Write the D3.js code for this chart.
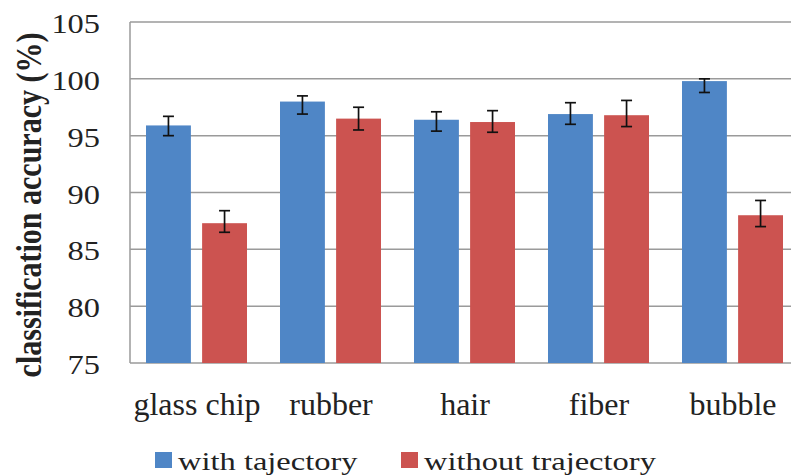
<!DOCTYPE html>
<html>
<head>
<meta charset="utf-8">
<script src="https://cdn.jsdelivr.net/npm/d3@7"></script>
</head>
<body style="margin:0;background:#fff">
<svg id="chart" width="791" height="476"></svg>
<script>
// Particle types and classification accuracy (%)
const categories = ["glass chip", "rubber", "hair", "fiber", "bubble"];
const seriesNames = ["with tajectory", "without trajectory"];
const withTrajectory    = [95.9, 98.0, 96.4, 96.9, 99.8];
const withoutTrajectory = [87.3, 96.5, 96.2, 96.8, 88.0];
// error bar extents (low / high)
const withLow     = [95.0, 96.9, 95.4, 96.0, 98.8];
const withHigh    = [96.7, 98.5, 97.1, 97.9, 100.0];
const withoutLow  = [86.5, 95.5, 95.3, 95.8, 87.0];
const withoutHigh = [88.4, 97.5, 97.2, 98.1, 89.3];
const yTicks = [75, 80, 85, 90, 95, 100, 105];
const colors = ["#4f86c6", "#cc5350"];

const serif = '"Liberation Serif"';
const svg = d3.select("#chart");
const plot = { left: 130, right: 800, top: 22, bottom: 363 };

const x0 = d3.scaleBand().domain(categories).range([plot.left, plot.right]).padding(0);
const x1 = d3.scaleBand().domain(seriesNames).range([16, 117]).paddingInner(0.2).paddingOuter(0);
const y = d3.scaleLinear().domain([75, 105]).range([plot.bottom, plot.top]);

// horizontal gridlines
svg.append("g")
  .selectAll("line")
  .data(yTicks)
  .join("line")
  .attr("x1", plot.left).attr("x2", 791)
  .attr("y1", d => y(d)).attr("y2", d => y(d))
  .attr("stroke", "#9a9a9a").attr("stroke-width", 1.5);

// left axis line
svg.append("line")
  .attr("x1", plot.left).attr("x2", plot.left)
  .attr("y1", plot.top).attr("y2", plot.bottom)
  .attr("stroke", "#9a9a9a").attr("stroke-width", 1.5);

// y tick labels (slightly widened glyphs)
const yAxis = d3.axisLeft(y).tickValues(yTicks).tickSize(0).tickPadding(25);
const gy = svg.append("g").attr("transform", `translate(${plot.left},0)`).call(yAxis);
gy.attr("font-family", null);
gy.select(".domain").remove();
gy.selectAll("text")
  .style("font-family", serif)
  .attr("font-size", 27).attr("fill", "#222").attr("dy", "0.39em")
  .attr("transform", "scale(1.2,1)");

// x category labels
const xAxis = d3.axisBottom(x0).tickSize(0).tickPadding(29);
const gx = svg.append("g").attr("transform", `translate(0,${plot.bottom})`).call(xAxis);
gx.attr("font-family", null);
gx.select(".domain").remove();
gx.selectAll("text")
  .style("font-family", serif)
  .attr("font-size", 32).attr("fill", "#222");

// bars
const rows = categories.map((c, i) => ({
  cat: c,
  vals: [
    { s: seriesNames[0], v: withTrajectory[i], lo: withLow[i], hi: withHigh[i], c: colors[0] },
    { s: seriesNames[1], v: withoutTrajectory[i], lo: withoutLow[i], hi: withoutHigh[i], c: colors[1] }
  ]
}));

const groups = svg.append("g").selectAll("g")
  .data(rows).join("g")
  .attr("transform", d => `translate(${x0(d.cat)},0)`);

groups.selectAll("rect")
  .data(d => d.vals).join("rect")
  .attr("x", d => x1(d.s))
  .attr("width", x1.bandwidth())
  .attr("y", d => y(d.v))
  .attr("height", d => y(75) - y(d.v))
  .attr("fill", d => d.c);

// error bars
const eb = groups.selectAll("g.err")
  .data(d => d.vals).join("g").attr("class", "err")
  .attr("transform", d => `translate(${x1(d.s) + x1.bandwidth() / 2},0)`);
eb.append("line").attr("x1", 0).attr("x2", 0)
  .attr("y1", d => y(d.lo)).attr("y2", d => y(d.hi))
  .attr("stroke", "#111").attr("stroke-width", 1.7);
eb.append("line").attr("x1", -5.5).attr("x2", 5.5)
  .attr("y1", d => y(d.hi)).attr("y2", d => y(d.hi))
  .attr("stroke", "#111").attr("stroke-width", 1.7);
eb.append("line").attr("x1", -5.5).attr("x2", 5.5)
  .attr("y1", d => y(d.lo)).attr("y2", d => y(d.lo))
  .attr("stroke", "#111").attr("stroke-width", 1.7);

// y axis title
svg.append("text")
  .attr("transform", "translate(41,205) scale(1.2,1) rotate(-90)")
  .attr("text-anchor", "middle")
  .style("font-family", serif)
  .attr("font-size", 30).attr("font-weight", "bold").attr("fill", "#222")
  .text("classification accuracy (%)");

// legend
const legendX = [155, 401];
const legend = svg.append("g").selectAll("g")
  .data(seriesNames).join("g")
  .attr("transform", (d, i) => `translate(${legendX[i]},452)`);
legend.append("rect").attr("width", 17).attr("height", 16).attr("fill", (d, i) => colors[i]);
legend.append("text")
  .attr("transform", "translate(23,18) scale(1.3,1)")
  .style("font-family", serif).attr("fill", "#222")
  .attr("font-size", 25).text(d => d);
</script>
</body>
</html>
